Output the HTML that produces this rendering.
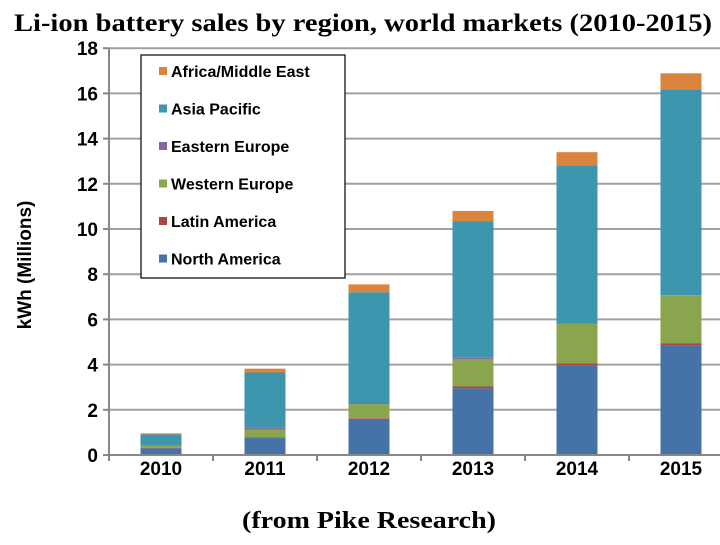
<!DOCTYPE html>
<html><head><meta charset="utf-8"><style>
body{margin:0;background:#fff;}
svg text{font-family:"Liberation Sans",Arial,sans-serif;}
</style></head><body>
<svg width="720" height="540" xmlns="http://www.w3.org/2000/svg">
<text x="14" y="31" textLength="698" lengthAdjust="spacingAndGlyphs" style="font-family:'Liberation Serif',serif;font-weight:bold;font-size:25px">Li-ion battery sales by region, world markets (2010-2015)</text>
<text x="369" y="528" textLength="254" lengthAdjust="spacingAndGlyphs" text-anchor="middle" style="font-family:'Liberation Serif',serif;font-weight:bold;font-size:24px">(from Pike Research)</text>
<text transform="translate(31,265) rotate(-90)" text-anchor="middle" font-weight="bold" font-size="19">kWh (Millions)</text>
<g id="grid"></g><g id="bars"></g><g id="axes"></g>
<g>
<rect x="141" y="55" width="204" height="223" fill="#fff" stroke="#000" stroke-width="1.2"/>
<g id="legend"></g></g>
</svg>
<script>
const years=["2010","2011","2012","2013","2014","2015"];
const seriesNames=["North America","Latin America","Western Europe","Eastern Europe","Asia Pacific","Africa/Middle East"];
const colors=["#4572a7","#aa4643","#89a54e","#80699b","#3d96ae","#db843d"];
const northAmerica=[0.3,0.75,1.6,2.95,3.95,4.85];
const latinAmerica=[0.02,0.03,0.03,0.08,0.1,0.1];
const westernEurope=[0.08,0.35,0.62,1.22,1.75,2.1];
const easternEurope=[0.01,0.07,0.05,0.05,0.02,0.02];
const asiaPacific=[0.5,2.45,4.9,6.05,7.0,9.1];
const africaMiddleEast=[0.05,0.17,0.35,0.45,0.58,0.72];
const yTicks=[0,2,4,6,8,10,12,14,16,18];
const series=[northAmerica,latinAmerica,westernEurope,easternEurope,asiaPacific,africaMiddleEast];
const NS="http://www.w3.org/2000/svg";
const x0=109,cw=104,bw=41,yBase=455,ppu=22.6;
const y=v=>yBase-v*ppu;
const xc=i=>x0+cw*i+cw/2;
function mk(t,a,p){const e=document.createElementNS(NS,t);for(const k in a)e.setAttribute(k,a[k]);document.getElementById(p).appendChild(e);return e;}
yTicks.forEach(t=>{
 const l=mk('line',{x1:x0,x2:720,y1:y(t),y2:y(t),stroke:'#a0a0a0','stroke-width':2},'grid');
 
 
 mk('line',{x1:x0-6,x2:x0,y1:y(t),y2:y(t),stroke:'#888','stroke-width':2},'axes');
 const tx=mk('text',{x:x0-11,y:y(t)+7,'text-anchor':'end','font-size':19,'font-weight':'bold'},'axes');
 tx.textContent=t;
 
 
});
mk('line',{x1:x0,x2:x0,y1:y(18),y2:yBase+6,stroke:'#888','stroke-width':2},'axes');
mk('line',{x1:x0,x2:720,y1:yBase,y2:yBase,stroke:'#888','stroke-width':2},'axes');
years.forEach((yr,i)=>{
 mk('line',{x1:x0+cw*(i+1),x2:x0+cw*(i+1),y1:yBase,y2:yBase+6,stroke:'#888','stroke-width':2},'axes');
 const tx=mk('text',{x:xc(i),y:yBase+18,'text-anchor':'middle','font-size':19,'font-weight':'bold'},'axes');
 tx.setAttribute('y',yBase+19+0);
 tx.setAttribute('dy','0.9em');
 tx.setAttribute('y',yBase+3);
 tx.textContent=yr;
 
 
 let acc=0;
 series.forEach((s,k)=>{
  const v=s[i];
  const r=mk('rect',{x:xc(i)-bw/2,y:y(acc+v),width:bw,height:v*ppu,fill:colors[k]},'bars');
  
  
  acc+=v;
 });
});
for(let k=5;k>=0;k--){
 const row=5-k, ly=72+row*37.5;
 mk('rect',{x:159,y:ly-5,width:8,height:8,fill:colors[k]},'legend');
 const tx=mk('text',{x:171,y:ly+5,'font-size':16,'font-weight':'bold'},'legend');
 tx.textContent=seriesNames[k];
 
 
}
</script>
</body></html>
